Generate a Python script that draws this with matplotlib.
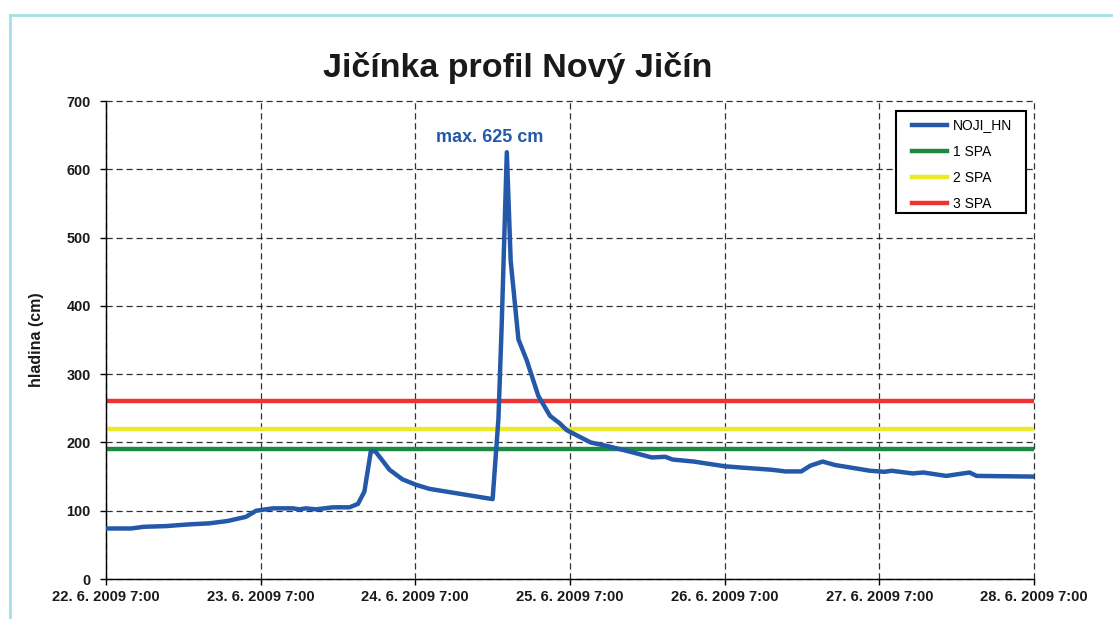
import pandas as pd
import matplotlib
matplotlib.use("Agg")
import matplotlib.pyplot as plt
from matplotlib.lines import Line2D
from matplotlib.patches import Rectangle
from matplotlib.transforms import ScaledTranslation

plt.rcParams['font.family'] = ['Liberation Sans', 'DejaVu Sans']

# water level NOJI_HN, hours after 22. 6. 2009 7:00
hours = [0, 3.9, 5.9, 9.3, 12.9, 16, 18.9, 21.7, 23.3, 25.9, 29, 30, 31, 32.6,
         35.2, 37.8, 39.1, 40.1, 41.1, 41.8, 44, 46, 48.1, 50.2, 60, 60.9,
         61.4, 62.2, 62.8, 64, 65.3, 67.1, 68.9, 70.4, 71.5, 75.2, 78.1, 81.5,
         84.7, 86.8, 87.9, 91.2, 96.1, 98.9, 103.3, 105.4, 107.9, 109.3, 111.2,
         113.1, 118.6, 120.8, 121.9, 125.2, 126.8, 130.4, 134, 135.1, 144]
level = [74, 74, 76.5, 77.5, 80, 81.5, 85, 91, 100, 103.5, 103.5, 102, 103.5, 102,
         105, 105, 110, 128, 187, 187, 160, 146, 138, 132, 117, 235,
         370, 625, 466, 351, 320, 268, 239, 228, 218, 200, 194, 186,
         178, 179, 175, 172, 165, 163, 160, 157.6, 157.6, 166, 172,
         167, 158.5, 157, 158.5, 154.6, 156, 151, 156, 151, 150]

spa_names = ['1 SPA', '2 SPA', '3 SPA']
spa_levels = [190, 220, 260]
spa_colors = ['#1b8a3e', '#ece92a', '#ee3333']

tick_labels = ['22. 6. 2009 7:00', '23. 6. 2009 7:00', '24. 6. 2009 7:00',
               '25. 6. 2009 7:00', '26. 6. 2009 7:00', '27. 6. 2009 7:00',
               '28. 6. 2009 7:00']

start = pd.Timestamp('2009-06-22 07:00')
times = start + pd.to_timedelta(hours, unit='h')
tick_times = pd.date_range(start, periods=len(tick_labels), freq='D')
blue = '#2458a8'

fig = plt.figure(figsize=(11.13, 6.19), dpi=100)
ax = fig.add_axes([0.0952, 0.0646, 0.8338, 0.7722])

for name, val, col in zip(spa_names, spa_levels, spa_colors):
    ax.axhline(val, color=col, lw=3.2, zorder=2)
ax.plot(times, level, color=blue, lw=3.2, solid_joinstyle='round', zorder=3)

ax.set_xlim(tick_times[0], tick_times[-1])
ax.set_ylim(0, 700)
ax.set_yticks(range(0, 701, 100))
ax.set_xticks(tick_times)
ax.set_xticklabels(tick_labels, fontsize=10.6, fontweight='bold', color='#1a1a1a')
shift = ScaledTranslation(3 / 100, 0, fig.dpi_scale_trans)
for t in ax.get_xticklabels():
    t.set_transform(t.get_transform() + shift)
for t in ax.get_yticklabels():
    t.set_fontsize(10.4)
    t.set_fontweight('bold')
    t.set_color('#1a1a1a')
ax.tick_params(axis='y', direction='out', length=4, width=1, color='black', pad=7)
ax.tick_params(axis='x', direction='out', length=4, width=1, color='black', pad=4)

ax.grid(True, color='black', linestyle=(0, (5, 3)), lw=0.9, alpha=0.8)
ax.set_axisbelow(True)
for gl in ax.get_xgridlines() + ax.get_ygridlines():
    gl.set_clip_on(False)
for s in ['top', 'right']:
    ax.spines[s].set_visible(False)
ax.spines['left'].set_linewidth(1)
ax.spines['bottom'].set_linewidth(1)

ax.set_ylabel('hladina (cm)', fontsize=11.5, fontweight='bold', color='#1a1a1a')
ax.yaxis.set_label_coords(-0.0672, 0.5)

i_max = level.index(max(level))
ax.text(times[i_max] - pd.Timedelta(hours=2.6), 646, 'max. %d cm' % max(level),
        color=blue, fontsize=13, fontweight='bold', ha='center', va='center')

# legend box
ax.add_patch(Rectangle((0.8513, 0.7657), 0.1401, 0.2134, transform=ax.transAxes,
                       facecolor='white', edgecolor='black', lw=1.5, zorder=4,
                       clip_on=False))
handles = [Line2D([], [], color=blue, lw=3.2)]
handles += [Line2D([], [], color=c, lw=3.2) for c in spa_colors]
leg = ax.legend(handles, ['NOJI_HN'] + spa_names, loc='upper left',
                bbox_to_anchor=(0.8685, 0.9636), fontsize=10, frameon=False,
                borderpad=0, borderaxespad=0, handlelength=2.5,
                handletextpad=0.45, labelspacing=0.87)
leg.set_zorder(5)

fig.text(0.465, 0.89, 'Jičínka profil Nový Jičín', fontsize=24.5,
         fontweight='bold', ha='center', va='center', color='#1a1a1a')

# light cyan frame (top and left edge)
fig.add_artist(Line2D([10 / 1113, 1.0], [1 - 15 / 619] * 2, color='#a6dfe8', lw=2))
fig.add_artist(Line2D([10 / 1113] * 2, [0, 1 - 15 / 619], color='#a6dfe8', lw=2))

fig.savefig('out.png', dpi=100)
